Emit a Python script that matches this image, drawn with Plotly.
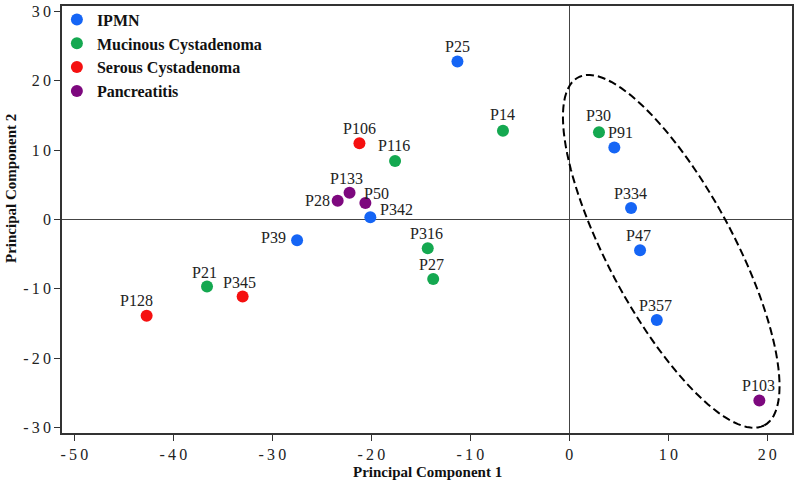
import numpy as np
import plotly.graph_objects as go

# ---------------- data ----------------
groups = ["IPMN", "Mucinous Cystadenoma", "Serous Cystadenoma", "Pancreatitis"]

ipmn_labels = ["P25", "P91", "P334", "P342", "P39", "P47", "P357"]
ipmn_pc1 = [-11.3, 4.55, 6.24, -20.1, -27.5, 7.15, 8.84]
ipmn_pc2 = [22.8, 10.4, 1.66, 0.33, -3.0, -4.44, -14.5]

muc_labels = ["P14", "P30", "P116", "P316", "P27", "P21"]
muc_pc1 = [-6.7, 3.0, -17.6, -14.3, -13.75, -36.6]
muc_pc2 = [12.8, 12.6, 8.45, -4.15, -8.6, -9.65]

ser_labels = ["P106", "P345", "P128"]
ser_pc1 = [-21.2, -33.0, -42.7]
ser_pc2 = [11.0, -11.1, -13.9]

pan_labels = ["P133", "P28", "P50", "P103"]
pan_pc1 = [-22.2, -23.4, -20.6, 19.2]
pan_pc2 = [3.87, 2.72, 2.38, -26.1]

x_ticks = [-50, -40, -30, -20, -10, 0, 10, 20]
y_ticks = [-30, -20, -10, 0, 10, 20, 30]

# highlighted cluster (ellipse): centre and half-axis vectors in data units
ell_center = (10.3, -4.6)
ell_axis_a = (9.4, -25.1)
ell_axis_b = (5.6, 4.2)

# ---------------- styles ----------------
colors = ["#1565f5", "#14a850", "#f51010", "#7d087e"]
# label offsets from the marker (pixels, dx right, dy up)
label_offsets = {
    "P25": (0, 15), "P91": (6, 15), "P334": (-1, 14), "P342": (26, 8),
    "P39": (-24, 3), "P47": (-2, 15), "P357": (-1, 15),
    "P14": (0, 16), "P30": (0, 17), "P116": (-1, 15), "P316": (-1, 15),
    "P27": (-2, 15), "P21": (-3, 14),
    "P106": (0, 15), "P345": (-3, 14), "P128": (-10, 15),
    "P133": (-3, 14), "P28": (-20, 0), "P50": (11, 10), "P103": (-1, 15),
}
series = [
    ("IPMN", ipmn_pc1, ipmn_pc2, ipmn_labels),
    ("Mucinous Cystadenoma", muc_pc1, muc_pc2, muc_labels),
    ("Serous Cystadenoma", ser_pc1, ser_pc2, ser_labels),
    ("Pancreatitis", pan_pc1, pan_pc2, pan_labels),
]

serif = "Liberation Serif"
fig = go.Figure()
annotations = []
for (name, xs, ys, labs), col in zip(series, colors):
    fig.add_trace(go.Scatter(
        x=xs, y=ys, mode="markers", name=name, text=labs,
        marker=dict(size=12, color=col),
    ))
    for xv, yv, lab in zip(xs, ys, labs):
        dx, dy = label_offsets[lab]
        annotations.append(dict(
            x=xv, y=yv, xref="x", yref="y", text=lab, showarrow=False,
            xshift=dx, yshift=dy, xanchor="center", yanchor="middle",
            font=dict(family=serif, size=16, color="#222")))

# dashed ellipse
t = np.linspace(0, 2 * np.pi, 120)
ex = ell_center[0] + ell_axis_a[0] * np.cos(t) + ell_axis_b[0] * np.sin(t)
ey = ell_center[1] + ell_axis_a[1] * np.cos(t) + ell_axis_b[1] * np.sin(t)
path = "M " + " L ".join(f"{a:.3f},{b:.3f}" for a, b in zip(ex, ey)) + " Z"
fig.add_shape(type="path", path=path, xref="x", yref="y",
              line=dict(color="black", width=2, dash="8px,4px"))

def spaced(v):
    return "\u2009".join(str(v))

axis_common = dict(
    showgrid=False, zeroline=True, zerolinecolor="#444", zerolinewidth=1,
    showline=True, linecolor="#333", linewidth=1.5, mirror=True,
    ticks="outside", ticklen=6, tickcolor="#333", automargin=False,
    tickfont=dict(family=serif, size=16, color="#222"),
)

annotations += [
    dict(text="Principal Component 1", xref="paper", yref="paper",
         x=0.5, y=-0.092, showarrow=False,
         xanchor="center", yanchor="middle",
         font=dict(family=serif, size=15, color="#111", weight="bold")),
    dict(text="Principal Component 2", xref="paper", yref="paper",
         x=-0.069, y=0.573, textangle=-90, showarrow=False,
         xanchor="center", yanchor="middle",
         font=dict(family=serif, size=15, color="#111", weight="bold")),
]

fig.update_layout(
    width=796, height=486,
    margin=dict(l=62, r=4, t=3, b=53),
    paper_bgcolor="white", plot_bgcolor="white",
    showlegend=True,
    legend=dict(x=-0.007, y=1.008, xanchor="left", yanchor="top",
                bgcolor="rgba(0,0,0,0)",
                font=dict(family=serif, size=16, color="#111", weight="bold")),
    xaxis=dict(range=[-51.25, 22.5], tickvals=x_ticks,
               ticktext=[spaced(v) for v in x_ticks], **axis_common),
    yaxis=dict(range=[-30.8, 30.8], tickvals=y_ticks,
               ticktext=[spaced(v) for v in y_ticks], **axis_common),
    annotations=annotations,
)

fig.write_html("out.html", config={"displayModeBar": False},
               post_script="document.body.style.margin='0';document.body.style.overflow='hidden';")
